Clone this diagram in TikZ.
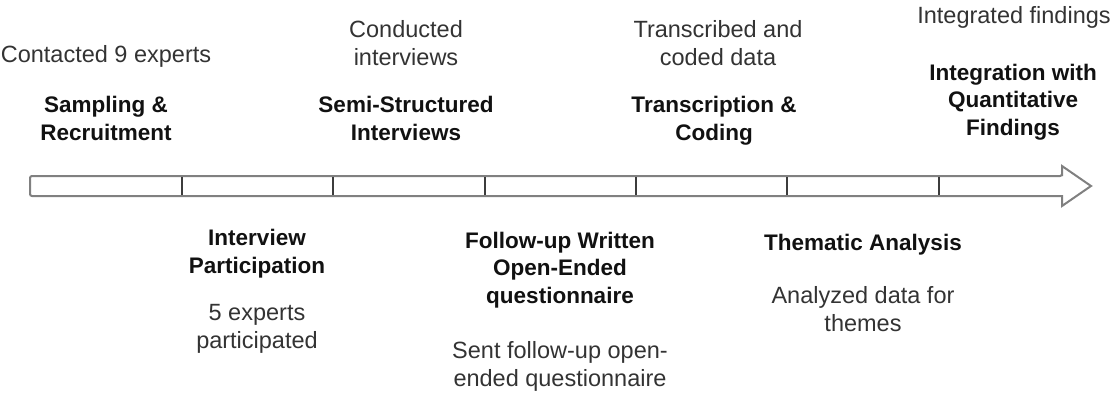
\documentclass[tikz,border=0pt]{standalone}
\usepackage{fontspec}
\setmainfont{Liberation Sans}
\usetikzlibrary{positioning,calc}
\definecolor{linegray}{RGB}{128,128,128}
\definecolor{tickgray}{RGB}{60,60,60}
\definecolor{notegray}{RGB}{51,51,51}
\definecolor{headblack}{RGB}{17,17,17}

\begin{document}
\begin{tikzpicture}[x=1pt,y=-1pt,
  stage/.style={font=\fontsize{22.5}{27.5}\selectfont\bfseries,text=headblack,
                align=center,inner sep=0pt,anchor=base},
  note/.style={font=\fontsize{23.5}{27.5}\selectfont,text=notegray,
               align=center,inner sep=0pt,anchor=base},
  bar/.style={draw=linegray,line width=2pt,fill=white},
  divider/.style={draw=tickgray,line width=2.5pt}
]
\useasboundingbox (0,0) rectangle (1113,394);

% timeline arrow
\draw[bar] (1062,176) -- (1062,166) -- (1091,186) -- (1062,206) -- (1062,196)
  [rounded corners=2pt] -- (30,196) -- (30,176) -- (1062,176) [sharp corners] -- cycle;
\foreach \x in {182,333,485,636,787,939}
  \draw[divider] (\x,177) -- (\x,195);

% stages above the line (anchor = baseline of last line)
\node[note]  (sampnote)  at (106,62)   {Contacted 9 experts};
\node[stage] (samp)      at (106,140)  {Sampling \&\\Recruitment};
\node[note]  (seminote)  at (406,65)   {Conducted\\interviews};
\node[stage] (semi)      at (406,140)  {Semi-Structured\\Interviews};
\node[note]  (transnote) at (718,65)   {Transcribed and\\coded data};
\node[stage] (trans)     at (714,140)  {Transcription \&\\Coding};
\node[note]  (integnote) at (1014,23)  {Integrated findings};
\node[stage] (integ)     at (1013,135) {Integration with\\Quantitative\\Findings};

% stages below the line
\node[stage] (inter)     at (257,273)  {Interview\\Participation};
\node[note]  (internote) at (257,348)  {5 experts\\participated};
\node[stage] (follow)    at (560,303)  {Follow-up Written\\Open-Ended\\questionnaire};
\node[note]  (follownote) at (560,386) {Sent follow-up open-\\ended questionnaire};
\node[stage] (them)      at (863,250)  {Thematic Analysis};
\node[note]  (themnote)  at (863,331)  {Analyzed data for\\themes};
\end{tikzpicture}
\end{document}
